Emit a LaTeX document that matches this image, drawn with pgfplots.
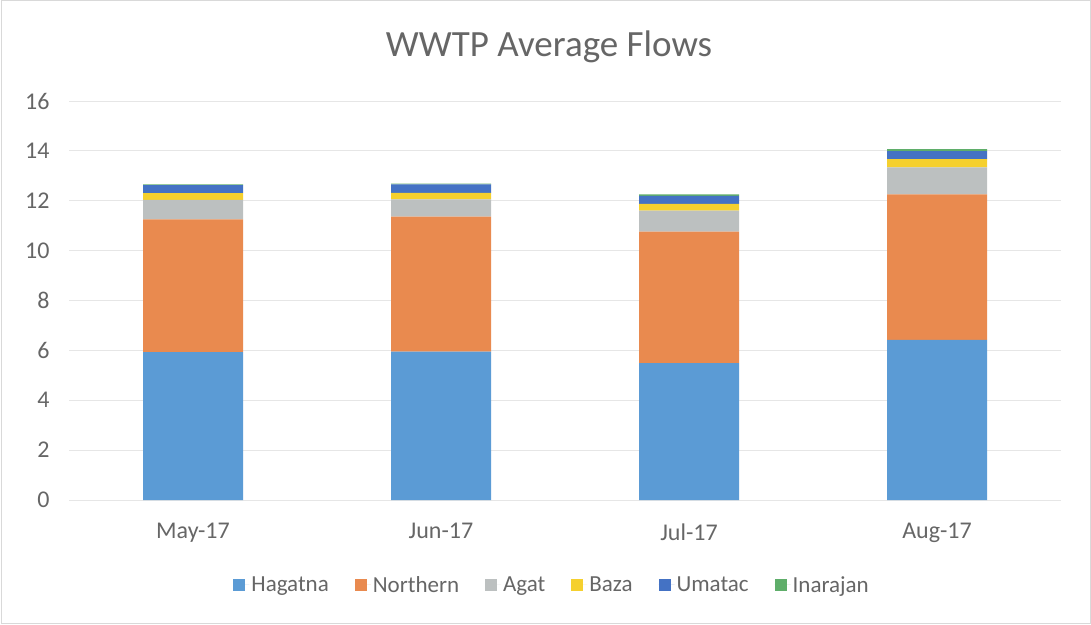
\documentclass[border=0pt]{standalone}
\usepackage{pgfplots}
\pgfplotsset{compat=1.18}
\usepackage{fontspec}
\setmainfont{Carlito}
\definecolor{cHag}{HTML}{5B9BD5}
\definecolor{cNor}{HTML}{E98A4F}
\definecolor{cAga}{HTML}{BCC0C0}
\definecolor{cBaz}{HTML}{F5D02E}
\definecolor{cUma}{HTML}{4472C4}
\definecolor{cIna}{HTML}{5FAE6A}
\definecolor{txt}{HTML}{666666}
\definecolor{gridc}{HTML}{E6E6E6}
\begin{document}
\begin{tikzpicture}
\useasboundingbox (0,0) rectangle (1091pt,624pt);
\draw[gray!30, line width=1pt] (1pt,1pt) rectangle (1090pt,623pt);
\node[text=txt, font=\fontsize{37}{42}\selectfont] at (549pt,577pt) {WWTP Average Flows};
\begin{axis}[
  at={(69pt,124pt)}, anchor=south west,
  scale only axis, width=992pt, height=399pt,
  ybar stacked, bar width=100pt,
  xmin=-0.5, xmax=3.5, ymin=0, ymax=16,
  xtick={0,1,2,3}, xticklabels={May-17,Jun-17,Jul-17,Aug-17},
  ytick={0,2,...,16},
  xmajorgrids=false, ymajorgrids,
  major grid style={draw=gridc, line width=0.8pt},
  axis line style={draw=none},
  axis x line*=bottom, axis y line*=left,
  x axis line style={draw=gridc, line width=0.8pt},
  tick style={draw=none}, major tick length=0pt,
  tick label style={text=txt, font=\fontsize{24}{28}\selectfont},
  /pgf/number format/assume math mode=true,
  yticklabel style={xshift=-16pt},
  xticklabel style={yshift=-20pt},
  legend style={draw=none, fill=none, at={(0.487,-0.213)}, anchor=center,
    legend columns=6, font=\fontsize{23}{27}\selectfont, text=txt,
    /tikz/every even column/.append style={column sep=24pt}},
  legend image code/.code={\fill[#1] (0pt,-6pt) rectangle (12pt,6pt); \path (0pt,0pt) -- (16pt,0pt);},
]
\addplot[fill=cHag, draw=none] coordinates {(0,5.93) (1,5.95) (2,5.49) (3,6.42)};
\addplot[fill=cNor, draw=none] coordinates {(0,5.32) (1,5.41) (2,5.27) (3,5.84)};
\addplot[fill=cAga, draw=none] coordinates {(0,0.78) (1,0.70) (2,0.84) (3,1.08)};
\addplot[fill=cBaz, draw=none] coordinates {(0,0.28) (1,0.26) (2,0.27) (3,0.33)};
\addplot[fill=cUma, draw=none] coordinates {(0,0.32) (1,0.34) (2,0.33) (3,0.32)};
\addplot[fill=cIna, draw=none] coordinates {(0,0.03) (1,0.03) (2,0.06) (3,0.08)};
\legend{Hagatna,Northern,Agat,Baza,Umatac,Inarajan}
\end{axis}
\end{tikzpicture}
\end{document}
